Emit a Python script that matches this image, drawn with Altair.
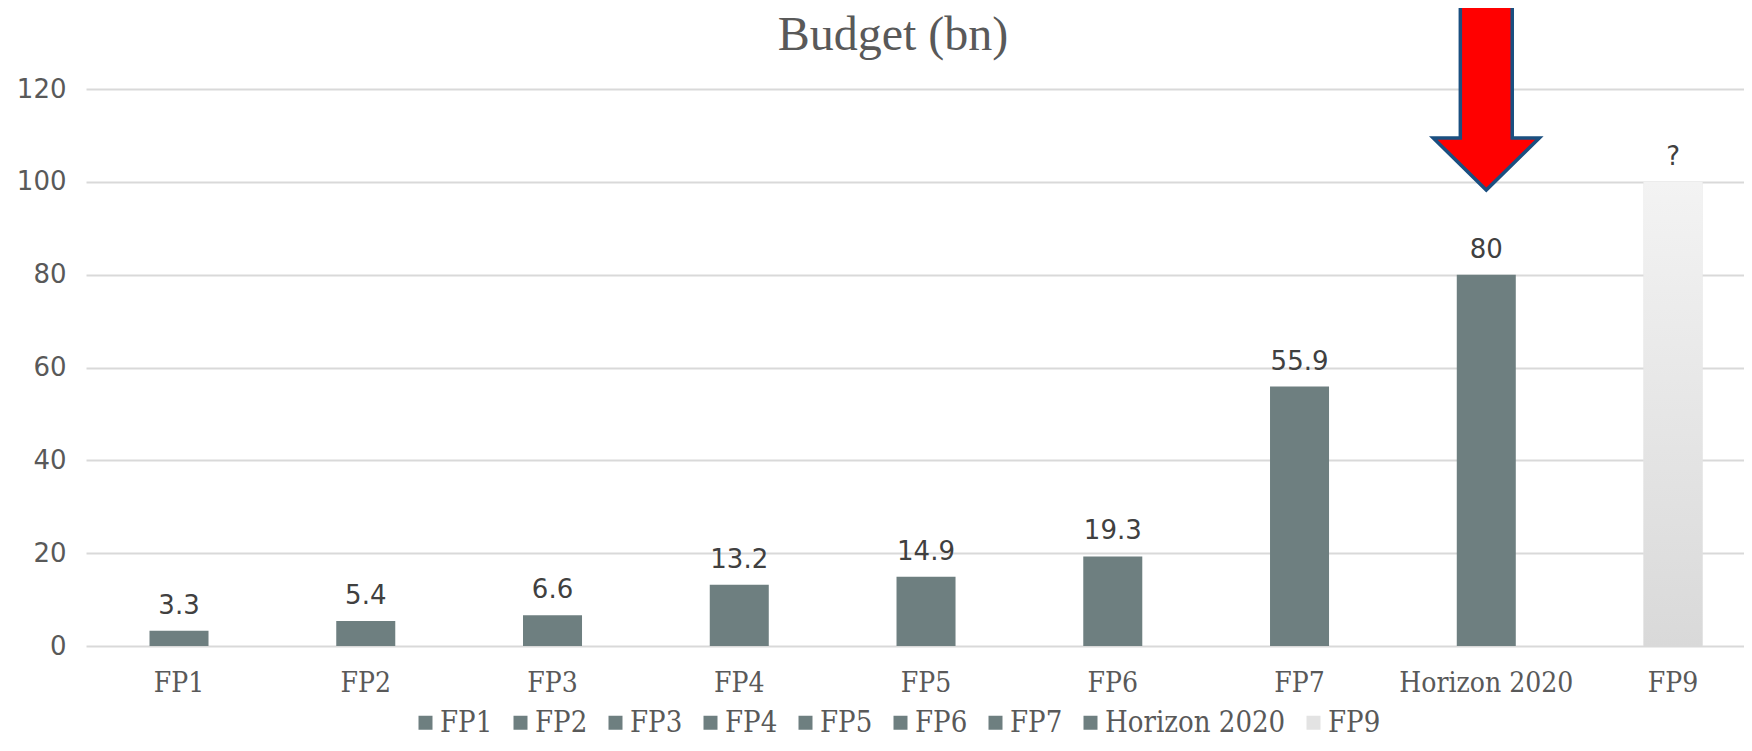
import altair as alt
import pandas as pd

# ---- data ----
programmes = ["FP1", "FP2", "FP3", "FP4", "FP5", "FP6", "FP7", "Horizon 2020", "FP9"]
budgets = [3.3, 5.4, 6.6, 13.2, 14.9, 19.3, 55.9, 80, 100]
value_labels = ["3.3", "5.4", "6.6", "13.2", "14.9", "19.3", "55.9", "80", "?"]
bar_colors = ["#6E7F80"] * 8 + ["#E3E3E3"]
y_ticks = [0, 20, 40, 60, 80, 100, 120]
highlight = ["Horizon 2020"]
title_text = ["Budget (bn)"]

df = pd.DataFrame({"programme": programmes, "budget": budgets, "label": value_labels})
arrow_df = pd.DataFrame({"programme": highlight})
title_df = pd.DataFrame({"title": title_text})

SERIF = "DejaVu Serif Condensed, DejaVu Serif"
SANS = "DejaVu Sans"
GREY_TXT = "#595959"

x_scale = alt.Scale(domain=programmes, paddingInner=0.684, paddingOuter=0.281, align=0.605)
y_scale = alt.Scale(domain=[0, 120], nice=False)

x_enc = alt.X(
    "programme:N", sort=programmes, scale=x_scale,
    axis=alt.Axis(title=None, labelAngle=0, ticks=False, domain=False,
                  labelFont=SERIF, labelFontSize=28, labelColor=GREY_TXT,
                  labelPadding=23, grid=False),
)
y_enc = alt.Y(
    "budget:Q", scale=y_scale,
    axis=alt.Axis(title=None, values=y_ticks, ticks=False, domain=False,
                  labelFont=SANS, labelFontSize=26, labelColor=GREY_TXT,
                  labelPadding=20, grid=True, gridColor="#D9D9D9", gridWidth=2),
)

bars = alt.Chart(df).mark_bar(opacity=1).encode(
    x=x_enc,
    y=y_enc,
    color=alt.Color(
        "programme:N",
        scale=alt.Scale(domain=programmes, range=bar_colors),
        legend=alt.Legend(
            title=None, orient="none", direction="horizontal", columns=9,
            legendX=325, legendY=619, symbolType="square", symbolSize=196,
            symbolStrokeWidth=0, symbolOpacity=1, labelFont=SERIF, labelFontSize=29,
            labelColor=GREY_TXT, labelOffset=0, columnPadding=13, padding=0,
            labelLimit=0,
        ),
    ),
)

fp9_gradient = alt.Gradient(
    gradient="linear", x1=0, x2=0, y1=0, y2=1,
    stops=[alt.GradientStop(color="#F3F3F3", offset=0),
           alt.GradientStop(color="#D9D9D9", offset=1)],
)
fp9 = alt.Chart(df).transform_filter(alt.datum.programme == "FP9").mark_bar(
    fill=fp9_gradient, opacity=1
).encode(x=alt.X("programme:N", sort=programmes), y=alt.Y("budget:Q"))

labels = alt.Chart(df).mark_text(
    baseline="alphabetic", dy=-17, font=SANS, fontSize=26, color="#404040"
).encode(x=alt.X("programme:N", sort=programmes), y=alt.Y("budget:Q"), text="label:N")

arrow_path = ("M -0.257 -1 L 0.257 -1 L 0.257 0.485 L 0.525 0.485 "
              "L 0 1 L -0.525 0.485 L -0.257 0.485 Z")
arrow = alt.Chart(arrow_df).mark_point(
    shape=arrow_path, filled=True, fill="#FF0000", stroke="#1A4F80",
    strokeWidth=3.5, size=40804, opacity=1, fillOpacity=1, strokeOpacity=1,
).encode(x=alt.X("programme:N", sort=programmes), y=alt.value(0))

title = alt.Chart(title_df).mark_text(
    font="Liberation Serif", fontSize=48, color=GREY_TXT, align="center",
    baseline="alphabetic",
).encode(x=alt.value(807), y=alt.value(-39), text="title:N")

chart = alt.layer(bars, fp9, labels, arrow, title).properties(
    width=1658,
    height=557,
    autosize=alt.AutoSizeParams(type="none"),
    padding={"left": 78, "top": 81, "right": 0, "bottom": 97},
).configure_view(stroke=None)

chart.save("out.html", embed_options={"renderer": "svg", "actions": False})
